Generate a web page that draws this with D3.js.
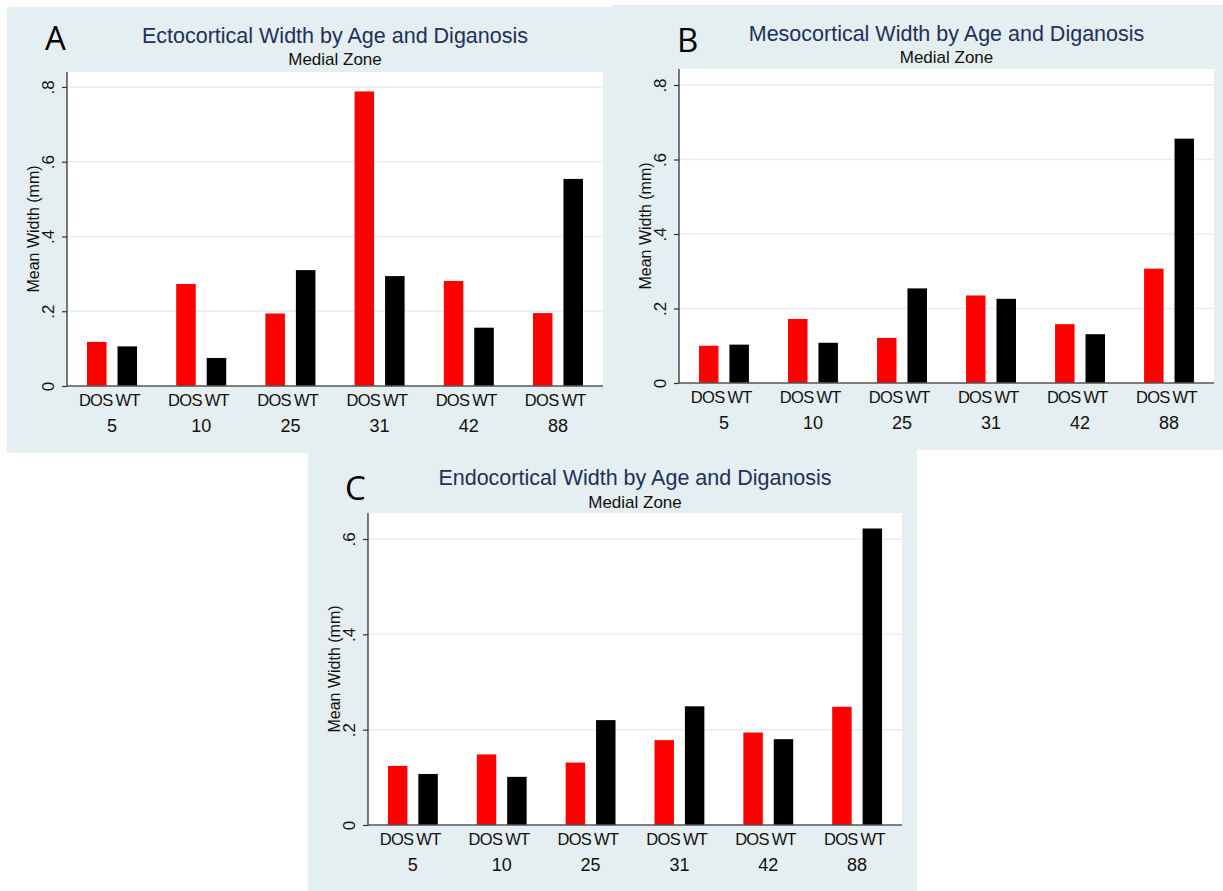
<!DOCTYPE html>
<html>
<head>
<meta charset="utf-8">
<script src="https://cdn.jsdelivr.net/npm/d3@7/dist/d3.min.js"></script>
<style>
  html, body { margin: 0; padding: 0; background: #ffffff; }
  svg { display: block; font-family: "Liberation Sans", Arial, Helvetica, sans-serif; }
</style>
</head>
<body>
<svg id="chart" width="1223" height="891"></svg>
<script>
// ---- data ----
const ages = ["5", "10", "25", "31", "42", "88"];
const groups = ["DOS", "WT"];
const yTicksAB = [0, 0.2, 0.4, 0.6, 0.8];
const yTicksC = [0, 0.2, 0.4, 0.6];

const ectoDOS = [0.118, 0.273, 0.194, 0.788, 0.281, 0.195];
const ectoWT  = [0.106, 0.075, 0.310, 0.294, 0.156, 0.554];
const mesoDOS = [0.100, 0.172, 0.121, 0.235, 0.158, 0.307];
const mesoWT  = [0.103, 0.108, 0.254, 0.226, 0.131, 0.656];
const endoDOS = [0.124, 0.148, 0.131, 0.178, 0.194, 0.248];
const endoWT  = [0.107, 0.101, 0.220, 0.249, 0.180, 0.622];

const titles = [
  "Ectocortical Width by Age and Diganosis",
  "Mesocortical Width by Age and Diganosis",
  "Endocortical Width by Age and Diganosis"
];
const subtitle = "Medial Zone";
const yTitle = "Mean Width (mm)";
const letters = ["A", "B", "C"];

// ---- layout (not data) ----
const panels = [
  { bg: [7, 7, 611, 446], left: 67, right: 603, top: 72, bottom: 386, yMax: 0.840,
    ticks: yTicksAB, dos: ectoDOS, wt: ectoWT, letterX: 45, letterY: 50, titleY: 43, subY: 65 },
  { bg: [612, 5, 611, 445], left: 679, right: 1214, top: 69, bottom: 383, yMax: 0.843,
    ticks: yTicksAB, dos: mesoDOS, wt: mesoWT, letterX: 677, letterY: 52, titleY: 41, subY: 63 },
  { bg: [308, 450, 609, 441], left: 368, right: 902, top: 513, bottom: 825, yMax: 0.6545,
    ticks: yTicksC, dos: endoDOS, wt: endoWT, letterX: 345, letterY: 500, titleY: 485, subY: 508 }
];

const svg = d3.select("#chart");
const BG = "#e5eef0";
const colors = { DOS: "#ff0000", WT: "#000000" };

// backgrounds first
panels.forEach(p => {
  svg.append("rect").attr("x", p.bg[0]).attr("y", p.bg[1])
    .attr("width", p.bg[2]).attr("height", p.bg[3]).attr("fill", BG);
});

panels.forEach((p, i) => {
  const g = svg.append("g");
  const x0 = d3.scaleBand().domain(ages).range([p.left, p.right])
    .paddingInner(0.439).paddingOuter(0.2245);
  const x1 = d3.scaleBand().domain(groups).range([0, x0.bandwidth()])
    .paddingInner(0.36).paddingOuter(0);
  const y = d3.scaleLinear().domain([0, p.yMax]).range([p.bottom, p.top]);

  // plot area
  g.append("rect").attr("x", p.left).attr("y", p.top)
    .attr("width", p.right - p.left).attr("height", p.bottom - p.top)
    .attr("fill", "#ffffff");

  // gridlines
  g.selectAll(".grid").data(p.ticks.filter(t => t > 0)).join("line")
    .attr("x1", p.left).attr("x2", p.right)
    .attr("y1", d => y(d)).attr("y2", d => y(d))
    .attr("stroke", "#e6eef1").attr("stroke-width", 1.5);

  // bars
  const rows = ages.map((a, k) => ({ age: a, vals: [{ k: "DOS", v: p.dos[k] }, { k: "WT", v: p.wt[k] }] }));
  const gg = g.selectAll(".grp").data(rows).join("g")
    .attr("transform", d => `translate(${x0(d.age)},0)`);
  gg.selectAll("rect").data(d => d.vals).join("rect")
    .attr("x", d => x1(d.k)).attr("width", x1.bandwidth())
    .attr("y", d => y(d.v)).attr("height", d => y(0) - y(d.v))
    .attr("fill", d => colors[d.k]);

  // bar labels: DOS ends just past group centre, WT starts a small gap after
  gg.selectAll(".bl").data(d => d.vals).join("text")
    .attr("x", d => d.k === "DOS" ? x1("DOS") + x1.bandwidth() + 6 : x1("WT") - 2)
    .attr("y", p.bottom + 19.5)
    .attr("text-anchor", d => d.k === "DOS" ? "end" : "start")
    .attr("font-size", 16.5)
    .attr("letter-spacing", -0.7).attr("fill", "#111")
    .text(d => d.k);
  // age labels
  gg.append("text")
    .attr("x", x0.bandwidth() / 2).attr("y", p.bottom + 45.5)
    .attr("text-anchor", "middle").attr("font-size", 18).attr("fill", "#111")
    .text(d => d.age);

  // baseline
  g.append("line").attr("x1", p.left).attr("x2", p.right)
    .attr("y1", y(0)).attr("y2", y(0))
    .attr("stroke", "#555").attr("stroke-width", 1.6);

  // y axis
  const ax = g.append("g").attr("transform", `translate(${p.left},0)`)
    .call(d3.axisLeft(y).tickValues(p.ticks).tickSize(5).tickSizeOuter(0)
      .tickFormat(d => d === 0 ? "0" : d3.format(".1f")(d).replace(/^0/, "")));
  ax.select(".domain").attr("stroke", "#333").attr("stroke-width", 1.3)
    .attr("d", `M0,${p.bottom}V${p.top}`);
  ax.selectAll(".tick line").attr("stroke", "#333").attr("stroke-width", 1.2);
  ax.selectAll(".tick text")
    .attr("transform", "rotate(-90)")
    .attr("x", 0).attr("y", -13).attr("dy", 0)
    .attr("text-anchor", "middle")
    .attr("font-size", 17).attr("fill", "#111")
    .attr("font-family", "Liberation Sans, Arial, sans-serif");

  // y title
  g.append("text")
    .attr("transform", `translate(${p.left - 28},${(p.top + p.bottom) / 2}) rotate(-90)`)
    .attr("text-anchor", "middle").attr("font-size", 16).attr("fill", "#111")
    .text(yTitle);

  // titles
  const cx = (p.left + p.right) / 2;
  g.append("text").attr("x", cx).attr("y", p.titleY)
    .attr("text-anchor", "middle").attr("font-size", 21.5).attr("fill", "#22305a")
    .text(titles[i]);
  g.append("text").attr("x", cx).attr("y", p.subY)
    .attr("text-anchor", "middle").attr("font-size", 17).attr("fill", "#111")
    .text(subtitle);

  // panel letter
  g.append("text").attr("x", p.letterX).attr("y", p.letterY)
    .attr("font-size", 33).attr("fill", "#000")
    .attr("font-family", "'Open Sans', 'Liberation Sans', sans-serif")
    .text(letters[i]);
});
</script>
</body>
</html>
